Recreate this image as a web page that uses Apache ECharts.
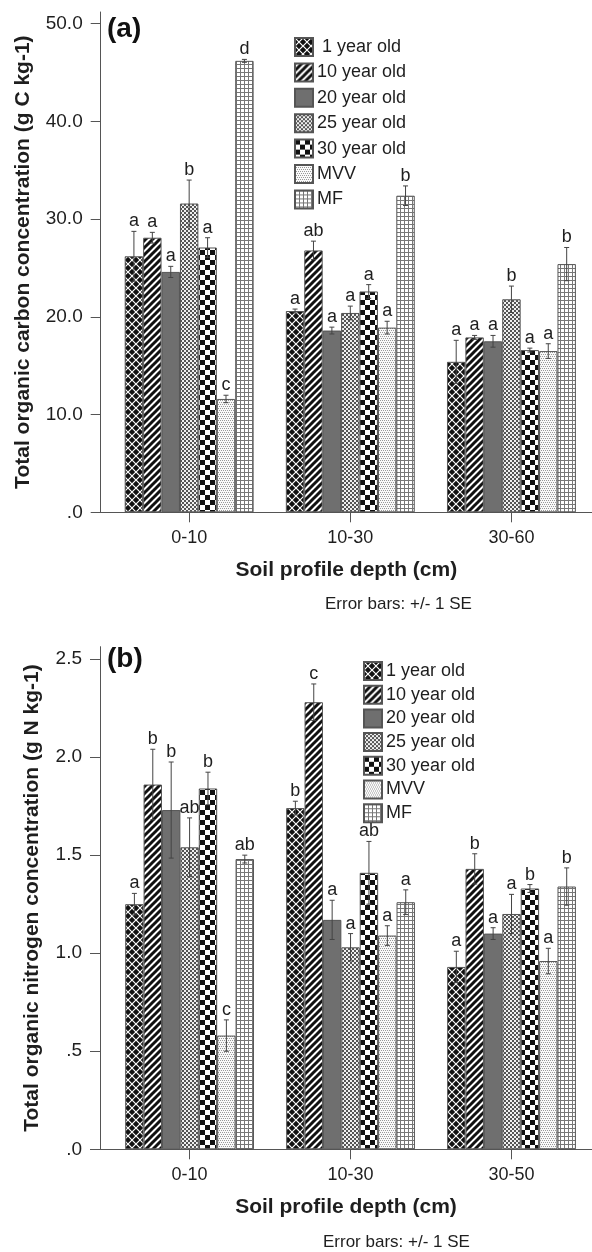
<!DOCTYPE html>
<html><head><meta charset="utf-8">
<script src="https://cdn.jsdelivr.net/npm/echarts@6/dist/echarts.min.js"></script>
<style>html,body{margin:0;padding:0;background:#fff}#c{width:592px;height:1252px}</style>
</head><body><div id="c"></div>
<script>
// ---------------- data ----------------
const seriesNames = ['1 year old', '10 year old', '20 year old', '25 year old', '30 year old', 'MVV', 'MF'];
const categoriesA = ['0-10', '10-30', '30-60'];
const categoriesB = ['0-10', '10-30', '30-50'];

// Panel (a): total organic carbon (g C kg-1), rows = series, cols = depth
const meanA = [
  [26.2, 20.6, 15.4],
  [28.1, 26.8, 17.9],
  [24.6, 18.6, 17.5],
  [31.6, 20.4, 21.8],
  [27.1, 22.6, 16.6],
  [11.6, 18.9, 16.5],
  [46.2, 32.4, 25.4]
];
const seA = [
  [2.55, 0.2, 2.2],
  [0.55, 0.95, 0.2],
  [0.57, 0.35, 0.6],
  [2.4, 0.7, 1.35],
  [1.0, 0.7, 0.2],
  [0.38, 0.65, 0.75],
  [0.15, 1.0, 1.7]
];
const lettersA = [
  ['a', 'a', 'a'],
  ['a', 'ab', 'a'],
  ['a', 'a', 'a'],
  ['b', 'a', 'b'],
  ['a', 'a', 'a'],
  ['c', 'a', 'a'],
  ['d', 'b', 'b']
];
const yTicksA = [0, 10, 20, 30, 40, 50];
const yTickLabelsA = ['.0', '10.0', '20.0', '30.0', '40.0', '50.0'];

// Panel (b): total organic nitrogen (g N kg-1)
const meanB = [
  [1.25, 1.74, 0.93],
  [1.86, 2.28, 1.43],
  [1.73, 1.17, 1.10],
  [1.54, 1.03, 1.20],
  [1.84, 1.41, 1.33],
  [0.58, 1.09, 0.96],
  [1.48, 1.26, 1.34]
];
const seB = [
  [0.055, 0.035, 0.08],
  [0.18, 0.093, 0.077],
  [0.245, 0.1, 0.03],
  [0.15, 0.07, 0.1],
  [0.083, 0.16, 0.02],
  [0.08, 0.05, 0.065],
  [0.02, 0.063, 0.095]
];
const lettersB = [
  ['a', 'b', 'a'],
  ['b', 'c', 'b'],
  ['b', 'a', 'a'],
  ['ab', 'a', 'a'],
  ['b', 'ab', 'b'],
  ['c', 'a', 'a'],
  ['ab', 'a', 'b']
];
const yTicksB = [0, 0.5, 1.0, 1.5, 2.0, 2.5];
const yTickLabelsB = ['.0', '.5', '1.0', '1.5', '2.0', '2.5'];

const titleA = 'Total organic carbon concentration (g C kg-1)';
const titleB = 'Total organic nitrogen concentration (g N kg-1)';
const xTitle = 'Soil profile depth (cm)';
const noteText = 'Error bars: +/- 1 SE';

// ---------------- styles ----------------
const FONT = "'Liberation Sans', Arial, Helvetica, sans-serif";
const AXIS = '#555';
const TXT = '#1e1e1e';

function cv(w, h) { const c = document.createElement('canvas'); c.width = w; c.height = h; return c; }
function patDiamond() {
  const s = 8, c = cv(s, s), g = c.getContext('2d');
  g.fillStyle = '#111'; g.fillRect(0, 0, s, s);
  g.strokeStyle = '#fff'; g.lineWidth = 1.2;
  g.beginPath(); g.moveTo(0, 0); g.lineTo(s, s); g.moveTo(s, 0); g.lineTo(0, s); g.stroke();
  return c;
}
function patStripe() {
  const s = 7, c = cv(s, s), g = c.getContext('2d');
  g.fillStyle = '#fff'; g.fillRect(0, 0, s, s);
  g.strokeStyle = '#111'; g.lineWidth = 3;
  g.beginPath();
  g.moveTo(-1, s + 1); g.lineTo(s + 1, -1);
  g.moveTo(-1, 1); g.lineTo(1, -1);
  g.moveTo(s - 1, s + 1); g.lineTo(s + 1, s - 1);
  g.stroke();
  return c;
}
function patFineHatch() {
  const s = 4, c = cv(s, s), g = c.getContext('2d');
  g.fillStyle = '#f0f0f0'; g.fillRect(0, 0, s, s);
  g.fillStyle = '#555';
  g.fillRect(0, 0, 2, 2); g.fillRect(2, 2, 2, 2);
  return c;
}
function patChecker() {
  const s = 10, c = cv(s, s), g = c.getContext('2d');
  g.fillStyle = '#fff'; g.fillRect(0, 0, s, s);
  g.fillStyle = '#111'; g.fillRect(0, 0, 5, 5); g.fillRect(5, 5, 5, 5);
  return c;
}
function patDots() {
  const s = 4, c = cv(s, s), g = c.getContext('2d');
  g.fillStyle = '#fafafa'; g.fillRect(0, 0, s, s);
  g.fillStyle = '#999';
  g.fillRect(0, 0, 1, 1); g.fillRect(2, 0, 1, 1); g.fillRect(1, 2, 1, 1); g.fillRect(3, 2, 1, 1);
  return c;
}
function patGrid() {
  const s = 4, c = cv(s, s), g = c.getContext('2d');
  g.fillStyle = '#fff'; g.fillRect(0, 0, s, s);
  g.fillStyle = '#777'; g.fillRect(0, 0, s, 1); g.fillRect(0, 0, 1, s);
  return c;
}
const fills = [
  { image: patDiamond(), repeat: 'repeat' },
  { image: patStripe(), repeat: 'repeat' },
  '#6f6f6f',
  { image: patFineHatch(), repeat: 'repeat' },
  { image: patChecker(), repeat: 'repeat' },
  { image: patDots(), repeat: 'repeat' },
  { image: patGrid(), repeat: 'repeat' }
];

function tickFormatter(ticks, labels) {
  return function (v) {
    for (let i = 0; i < ticks.length; i++) if (Math.abs(ticks[i] - v) < 1e-9) return labels[i];
    return '';
  };
}

function makeErrRender(letters) {
  return function (params, api) {
    const cat = api.value(0), si = api.value(1), m = api.value(2), se = api.value(3);
    const c = api.coord([cat, m]);
    const band = api.size([1, 0])[0];
    const n = seriesNames.length;
    const bw = band * 0.8 / n;
    const x = c[0] - band * 0.4 + (si + 0.5) * bw;
    const yT = api.coord([cat, m + se])[1];
    const yB = api.coord([cat, m - se])[1];
    const cap = 2.5;
    const ls = { stroke: '#444', lineWidth: 1 };
    return {
      type: 'group',
      children: [
        { type: 'line', shape: { x1: x, y1: yT, x2: x, y2: yB }, style: ls },
        { type: 'line', shape: { x1: x - cap, y1: yT, x2: x + cap, y2: yT }, style: ls },
        { type: 'line', shape: { x1: x - cap, y1: yB, x2: x + cap, y2: yB }, style: ls },
        { type: 'text', style: { text: letters[si][cat], x: x, y: yT - 1, align: 'center', verticalAlign: 'bottom',
            fontSize: 18, fontFamily: FONT, fill: TXT } }
      ]
    };
  };
}
function errData(mean, se) {
  const d = [];
  for (let s = 0; s < mean.length; s++) for (let c = 0; c < mean[s].length; c++) d.push([c, s, mean[s][c], se[s][c]]);
  return d;
}

// ---------------- layout ----------------
const GA = { left: 108.6, top: 12, width: 483.6, height: 500.3 };
const GAline = { left: 100.7, top: 12, width: 491.3, height: 500.3 };
const GB = { left: 109.1, top: 646.7, width: 496.1, height: 502.6 };
const GBline = { left: 100, top: 646.7, width: 492, height: 502.6 };

function catAxis(gridIndex, cats) {
  return {
    gridIndex, type: 'category', data: cats,
    axisLine: { show: false },
    axisTick: { show: true, alignWithLabel: true, length: 10, lineStyle: { color: AXIS, width: 1 } },
    axisLabel: { margin: 17, fontSize: 18, fontFamily: FONT, color: TXT },
    splitLine: { show: false }
  };
}
function lineAxis(gridIndex) {
  return {
    gridIndex, type: 'value', min: 0, max: 1,
    axisLine: { show: true, lineStyle: { color: AXIS, width: 1 } },
    axisTick: { show: false }, axisLabel: { show: false }, splitLine: { show: false },
    name: xTitle, nameLocation: 'middle', nameGap: 47,
    nameTextStyle: { fontSize: 21, fontWeight: 'bold', fontFamily: FONT, color: TXT }
  };
}
function valAxis(gridIndex, max, ticks, labels, offset, name, nameGap) {
  return {
    gridIndex, type: 'value', min: 0, max, offset,
    axisLine: { show: true, lineStyle: { color: AXIS, width: 1 } },
    axisTick: { show: true, length: 10, customValues: ticks, lineStyle: { color: AXIS, width: 1 } },
    axisLabel: { customValues: ticks, formatter: tickFormatter(ticks, labels), margin: 18, fontSize: 19, fontFamily: FONT, color: TXT },
    splitLine: { show: false },
    name, nameLocation: 'middle', nameGap, nameRotate: 90,
    nameTextStyle: { fontSize: 21, fontWeight: 'bold', fontFamily: FONT, color: TXT }
  };
}

const series = [];
seriesNames.forEach((nm, i) => {
  series.push({
    type: 'bar', name: nm, xAxisIndex: 0, yAxisIndex: 0, data: meanA[i],
    barGap: '0%', barCategoryGap: '20%',
    itemStyle: { color: fills[i], borderColor: '#555', borderWidth: 1 }
  });
});
seriesNames.forEach((nm, i) => {
  series.push({
    type: 'bar', name: nm, xAxisIndex: 2, yAxisIndex: 2, data: meanB[i],
    barGap: '0%', barCategoryGap: '20%',
    itemStyle: { color: fills[i], borderColor: '#555', borderWidth: 1 }
  });
});
series.push({ type: 'custom', xAxisIndex: 0, yAxisIndex: 0, z: 5, renderItem: makeErrRender(lettersA), data: errData(meanA, seA) });
series.push({ type: 'custom', xAxisIndex: 2, yAxisIndex: 2, z: 5, renderItem: makeErrRender(lettersB), data: errData(meanB, seB) });

const legendBase = {
  orient: 'vertical', icon: 'rect', itemWidth: 18, itemHeight: 18, padding: 0,
  selectedMode: false, data: seriesNames,
  textStyle: { fontSize: 18, fontFamily: FONT, color: TXT, padding: [0, 0, 0, -1] }
};

const option = {
  animation: false,
  backgroundColor: '#fff',
  textStyle: { fontFamily: FONT },
  title: [
    { text: '(a)', left: 107, top: 15, padding: 0, textStyle: { fontSize: 28, fontWeight: 'bold', fontFamily: FONT, color: '#111' } },
    { text: '(b)', left: 107, top: 645, padding: 0, textStyle: { fontSize: 28, fontWeight: 'bold', fontFamily: FONT, color: '#111' } },
    { text: noteText, left: 325, top: 596, padding: 0, textStyle: { fontSize: 17, fontWeight: 'normal', fontFamily: FONT, color: TXT } },
    { text: noteText, left: 323, top: 1234, padding: 0, textStyle: { fontSize: 17, fontWeight: 'normal', fontFamily: FONT, color: TXT } }
  ],
  legend: [
    Object.assign({}, legendBase, { left: 294, top: 37, itemGap: 5.4,
      formatter: n => (n === seriesNames[0] ? ' ' + n : n) }),
    Object.assign({}, legendBase, { left: 363, top: 661, itemGap: 3.7 })
  ],
  grid: [GA, GAline, GB, GBline],
  xAxis: [catAxis(0, categoriesA), lineAxis(1), catAxis(2, categoriesB), lineAxis(3)],
  yAxis: [
    valAxis(0, 51.2, yTicksA, yTickLabelsA, 7.9, titleA, 67),
    { gridIndex: 1, type: 'value', show: false },
    valAxis(2, 2.563, yTicksB, yTickLabelsB, 9.1, titleB, 57),
    { gridIndex: 3, type: 'value', show: false }
  ],
  series
};

const chart = echarts.init(document.getElementById('c'), null, { renderer: 'canvas' });
chart.setOption(option);
</script>
</body></html>
